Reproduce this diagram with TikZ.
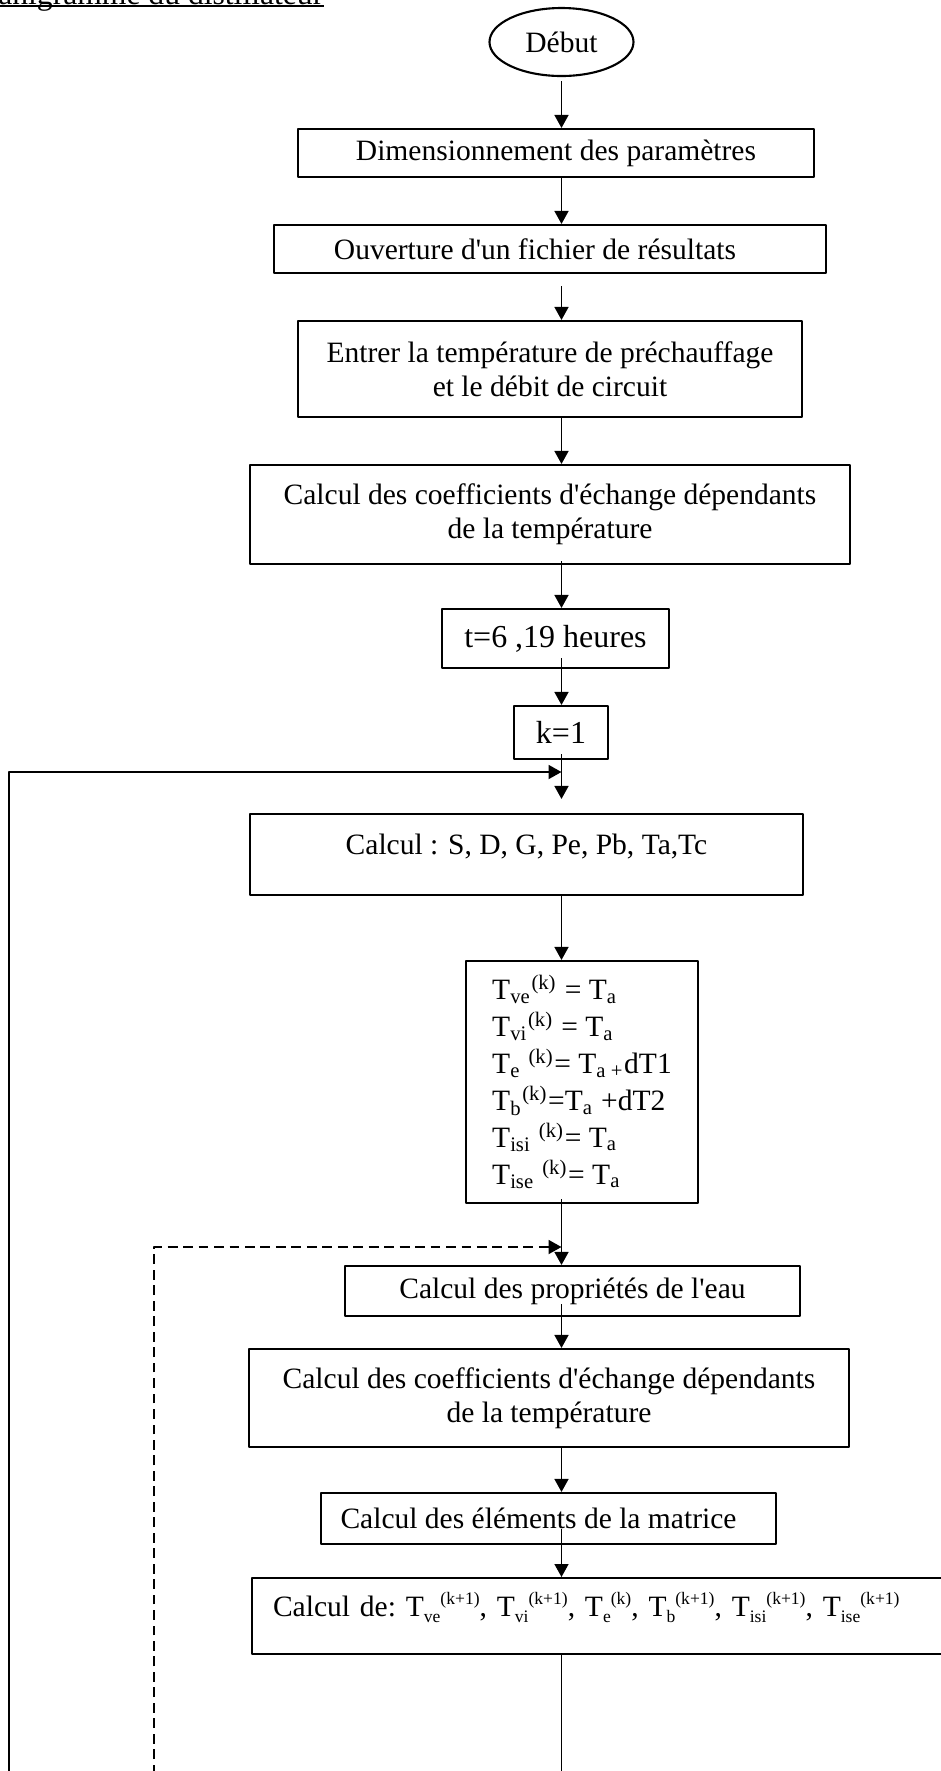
\documentclass[tikz,border=0pt]{standalone}
\usepackage{fontspec}
\setmainfont{Liberation Serif}
\usetikzlibrary{arrows.meta,shapes.geometric,calc}
% indices réduits pour la ligne "Calcul de"
\newcommand{\Tind}[2]{T\raisebox{-0.45ex}{\fontsize{5}{6}\selectfont #1}\raisebox{0.85ex}{\fontsize{5}{6}\selectfont #2}}

\begin{document}
\begin{tikzpicture}[font=\fontsize{8.4}{9.8}\selectfont, line join=round, >={Triangle[length=1.3mm,width=1.4mm]},
	boite/.style={draw, line width=0.6pt, inner sep=0pt, align=center},
	fleche/.style={->, line width=0.45pt},
	boucle/.style={->, line width=0.55pt}]
\useasboundingbox (0,0) rectangle (9.41,-17.71);
% Titre (coupé par le haut de la page)
\node[anchor=base east, inner sep=0pt, font=\fontsize{9}{10}\selectfont] (titre) at (3.24,-0.04) {Organigramme du distillateur};
\draw[line width=0.45pt] ([yshift=-0.6pt]titre.base west) -- ([yshift=-0.6pt]titre.base east);
% Début
\node[ellipse, draw, line width=0.6pt, minimum width=1.44cm, minimum height=0.68cm, inner sep=0pt] (debut) at (5.615,-0.42) {Début};
% Les blocs
\node[boite, minimum width=5.16cm, minimum height=0.48cm] (dim) at (5.56,-1.53) {Dimensionnement des paramètres};
\node[boite, minimum width=5.52cm, minimum height=0.48cm] (ouv) at (5.50,-2.49) {\hspace*{-0.3cm}Ouverture d\textquotesingle un fichier de résultats};
\node[boite, minimum width=5.04cm, minimum height=0.96cm] (entree) at (5.50,-3.69) {Entrer la température de préchauffage\\ et le débit de circuit};
\node[boite, minimum width=6.00cm, minimum height=0.99cm] (coef) at (5.50,-5.145) {Calcul des coefficients d\textquotesingle échange dépendants\\ de la température};
\node[boite, minimum width=2.27cm, minimum height=0.59cm, font=\fontsize{9.1}{10}\selectfont] (temps) at (5.555,-6.385) {t=6 ,19 heures};
\node[boite, minimum width=0.94cm, minimum height=0.53cm, font=\fontsize{9.1}{10}\selectfont] (kun) at (5.61,-7.325) {k=1};
\node[boite, minimum width=5.53cm, minimum height=0.81cm, text height=2.2mm, text depth=2.2mm] (calcS) at (5.265,-8.545) {Calcul : S, D, G, Pe, Pb, Ta,Tc};
% Initialisation des températures
\node[boite, align=left, minimum width=2.32cm, minimum height=2.42cm, font=\fontsize{8.4}{10.5}\selectfont] (init) at (5.82,-10.82) {%
	T\textsubscript{ve}\textsuperscript{(k)} = T\textsubscript{a}\\
	T\textsubscript{vi}\textsuperscript{(k)} = T\textsubscript{a}\\
	T\textsubscript{e} \textsuperscript{(k)}= T\textsubscript{a +}dT1\\
	T\textsubscript{b}\textsuperscript{(k)}=T\textsubscript{a} +dT2\\
	T\textsubscript{isi} \textsuperscript{(k)}= T\textsubscript{a}\\
	T\textsubscript{ise} \textsuperscript{(k)}= T\textsubscript{a}};
\node[boite, minimum width=4.55cm, minimum height=0.50cm] (prop) at (5.725,-12.91) {Calcul des propriétés de l\textquotesingle eau};
\node[boite, minimum width=6.00cm, minimum height=0.98cm] (coefb) at (5.49,-13.98) {Calcul des coefficients d\textquotesingle échange dépendants\\ de la température};
\node[boite, minimum width=4.55cm, minimum height=0.51cm] (elem) at (5.485,-15.185) {\hspace*{-0.2cm}Calcul des éléments de la matrice};
\node[boite, anchor=north west, align=left, text width=7.2cm, inner xsep=0.21cm, minimum height=0.76cm, text height=2.2mm, text depth=2.2mm] (calcT) at (2.51,-15.77) {Calcul de:\ \Tind{ve}{(k+1)}, \Tind{vi}{(k+1)}, \Tind{e}{(k)}, \Tind{b}{(k+1)}, \Tind{isi}{(k+1)}, \Tind{ise}{(k+1)}};
% Liaisons
\draw[fleche] ($(debut.south)+(0,-0.04)$) -- (dim.north -| debut);
\draw[fleche] (dim.south -| debut) -- (ouv.north -| debut);
\draw[fleche] ($(ouv.south -| debut)+(0,-0.12)$) -- (entree.north -| debut);
\draw[fleche] (entree.south -| debut) -- (coef.north -| debut);
\draw[fleche] ($(coef.south -| debut)+(0,0.04)$) -- (temps.north -| debut);
\draw[fleche] ($(temps.south -| debut)+(0,0.11)$) -- (kun.north -| debut);
\draw[fleche] ($(kun.south -| debut)+(0,0.06)$) -- ($(calcS.north -| debut)+(0,0.14)$);
\draw[fleche] (calcS.south -| debut) -- (init.north -| debut);
\draw[fleche] ($(init.south -| debut)+(0,0.05)$) -- (prop.north -| debut);
\draw[fleche] ($(prop.south -| debut)+(0,0.13)$) -- (coefb.north -| debut);
\draw[fleche] (coefb.south -| debut) -- (elem.north -| debut);
\draw[fleche] ($(elem.south -| debut)+(0,0.16)$) -- (calcT.north -| debut);
\coordinate (fin) at (5.615,-17.9);
\draw[line width=0.45pt] (calcT.south -| debut) -- (fin);
% Boucles de retour
\coordinate (retourk) at (5.615,-7.72);
\coordinate (bask) at (0.09,-17.9);
\draw[boucle] (bask) |- (retourk);
\coordinate (retourit) at (5.615,-12.47);
\coordinate (basit) at (1.54,-17.9);
\draw[boucle, dash pattern=on 2.8pt off 1.6pt] (basit) |- (retourit);
\end{tikzpicture}
\end{document}
